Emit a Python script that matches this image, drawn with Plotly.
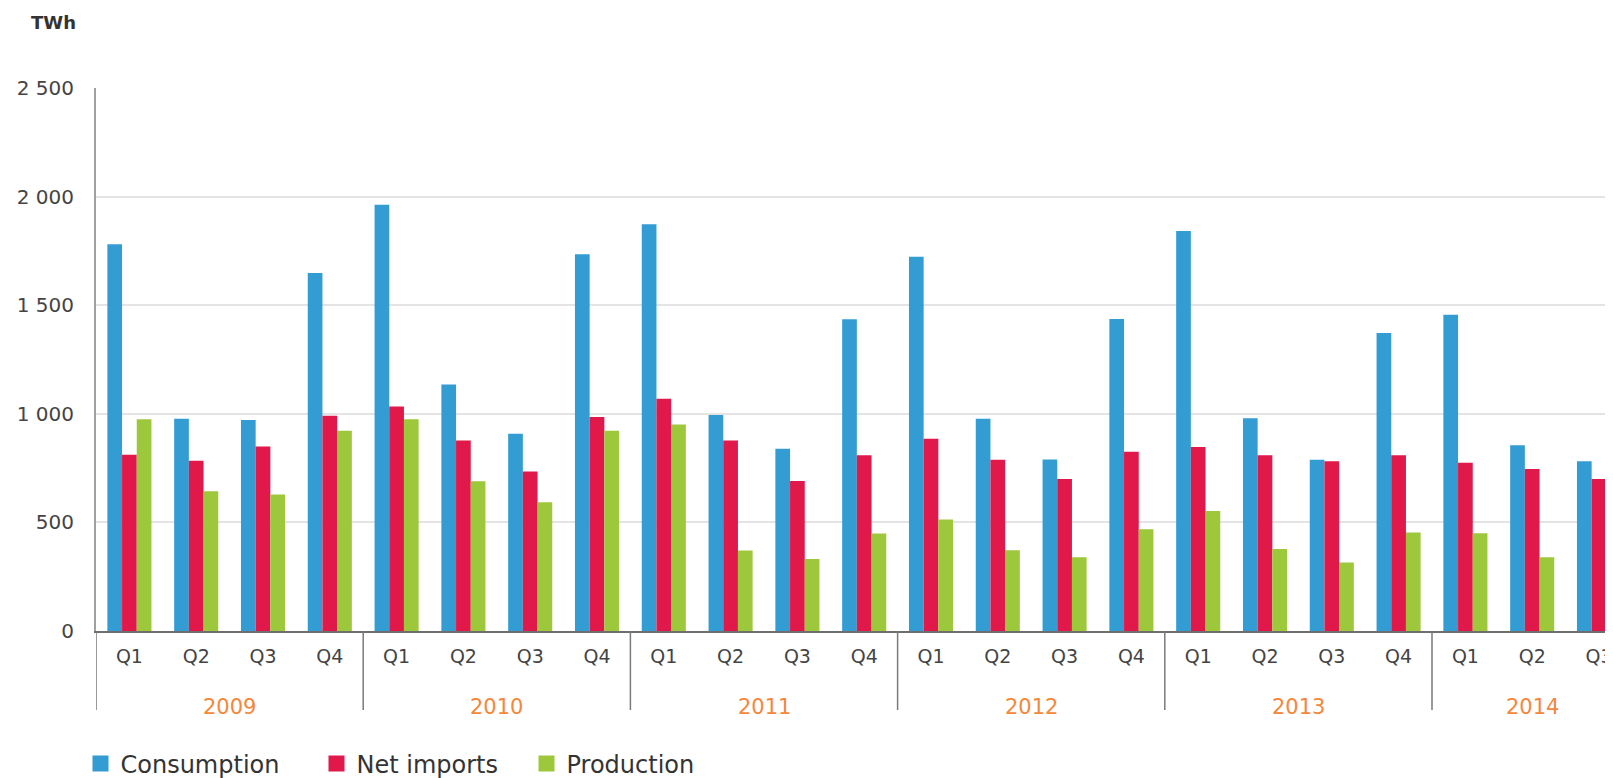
import plotly.graph_objects as go

years = ["2009", "2010", "2011", "2012", "2013", "2014"]
quarters = ["Q1", "Q2", "Q3", "Q4"]
# quarter labels in order (2014 ends at Q3)
period_year = [y for y in years[:-1] for _ in quarters] + ["2014"] * 3
period_quarter = quarters * 5 + ["Q1", "Q2", "Q3"]

consumption = [1781, 977, 971, 1648,
               1963, 1135, 908, 1735,
               1873, 995, 839, 1435,
               1723, 977, 790, 1436,
               1842, 980, 789, 1372,
               1456, 855, 781]
net_imports = [812, 784, 850, 991,
               1034, 877, 734, 985,
               1069, 877, 691, 809,
               885, 789, 700, 825,
               847, 809, 781, 809,
               775, 746, 700]
production = [975, 643, 628, 922,
              975, 689, 593, 922,
              951, 371, 332, 449,
              513, 372, 340, 469,
              553, 377, 315, 453,
              450, 340, 300]

y_ticks = [0, 500, 1000, 1500, 2000, 2500]
y_ticktext = ["0", "500", "1 000", "1 500", "2 000", "2 500"]

series = [
    ("Consumption", consumption, "#339DD3"),
    ("Net imports", net_imports, "#E0194A"),
    ("Production", production, "#9EC83B"),
]

FONT = "DejaVu Sans"
idx = list(range(len(period_quarter)))

# the page body has an 8px margin, so the figure is sized to fill the rest of the window
W, H = 1605, 770
ml, mr, mt, mb = 88, 0, 80, 147
plot_w = W - ml - mr
plot_h = H - mt - mb

legend_names = ["legend", "legend2", "legend3"]
legend_x_px = [-15.5, 220.5, 430.5]

fig = go.Figure()
for (name, vals, col), lg in zip(series, legend_names):
    fig.add_trace(go.Bar(x=idx, y=vals, name=name, marker=dict(color=col, line=dict(width=0)),
                         showlegend=False))
    # legend proxy with larger square symbol
    fig.add_trace(go.Scatter(x=[None], y=[None], mode="markers", name=name, legend=lg,
                             marker=dict(symbol="square", size=16, color=col)))

# year dividers and year labels
shapes = []
annotations = []
for yname in years:
    members = [i for i, yy in enumerate(period_year) if yy == yname]
    left = members[0] - 0.5
    shapes.append(dict(type="line", xref="x", yref="paper", x0=left, x1=left,
                       y0=0, y1=-79 / plot_h, line=dict(color="#7a7a7a", width=1.5)))
    annotations.append(dict(text=yname, xref="x", yref="paper",
                            x=sum(members) / len(members), y=0, yshift=-76,
                            showarrow=False, yanchor="middle", xanchor="center",
                            font=dict(family=FONT, size=21, color="#F5873A")))

annotations.append(dict(text="<b>TWh</b>", xref="paper", yref="paper", x=0, y=1,
                        xshift=-18, yshift=66, xanchor="right", yanchor="middle",
                        showarrow=False, font=dict(family=FONT, size=18, color="#333333")))

legend_common = dict(orientation="h", xanchor="left", y=-133 / plot_h, yanchor="middle",
                     font=dict(family=FONT, size=24, color="#333333"), itemsizing="trace",
                     bgcolor="rgba(0,0,0,0)")

fig.update_layout(
    width=W, height=H,
    margin=dict(l=ml, r=mr, t=mt, b=mb, autoexpand=False),
    paper_bgcolor="white", plot_bgcolor="white",
    barmode="group", bargap=0.34, bargroupgap=0,
    font=dict(family=FONT, color="#444444"),
    shapes=shapes, annotations=annotations,
    legend=dict(x=legend_x_px[0] / plot_w, **legend_common),
    legend2=dict(x=legend_x_px[1] / plot_w, **legend_common),
    legend3=dict(x=legend_x_px[2] / plot_w, **legend_common),
    xaxis=dict(range=[-0.5, -0.5 + plot_w / 66.8], tickmode="array",
               tickvals=idx, ticktext=period_quarter, showgrid=False, automargin=False,
               showline=True, linecolor="#6e6e6e", linewidth=1.5, zeroline=False,
               ticks="", ticklabelstandoff=7,
               tickfont=dict(family=FONT, size=19, color="#444444")),
    yaxis=dict(range=[0, 2500], tickmode="array", tickvals=y_ticks, ticktext=y_ticktext,
               showgrid=True, gridcolor="#E4E4E4", gridwidth=1.5, automargin=False,
               showline=True, linecolor="#A0A0A0", linewidth=2, zeroline=False,
               ticks="", ticklabelstandoff=16,
               tickfont=dict(family=FONT, size=20, color="#444444")),
)

fig.write_html("out.html")
